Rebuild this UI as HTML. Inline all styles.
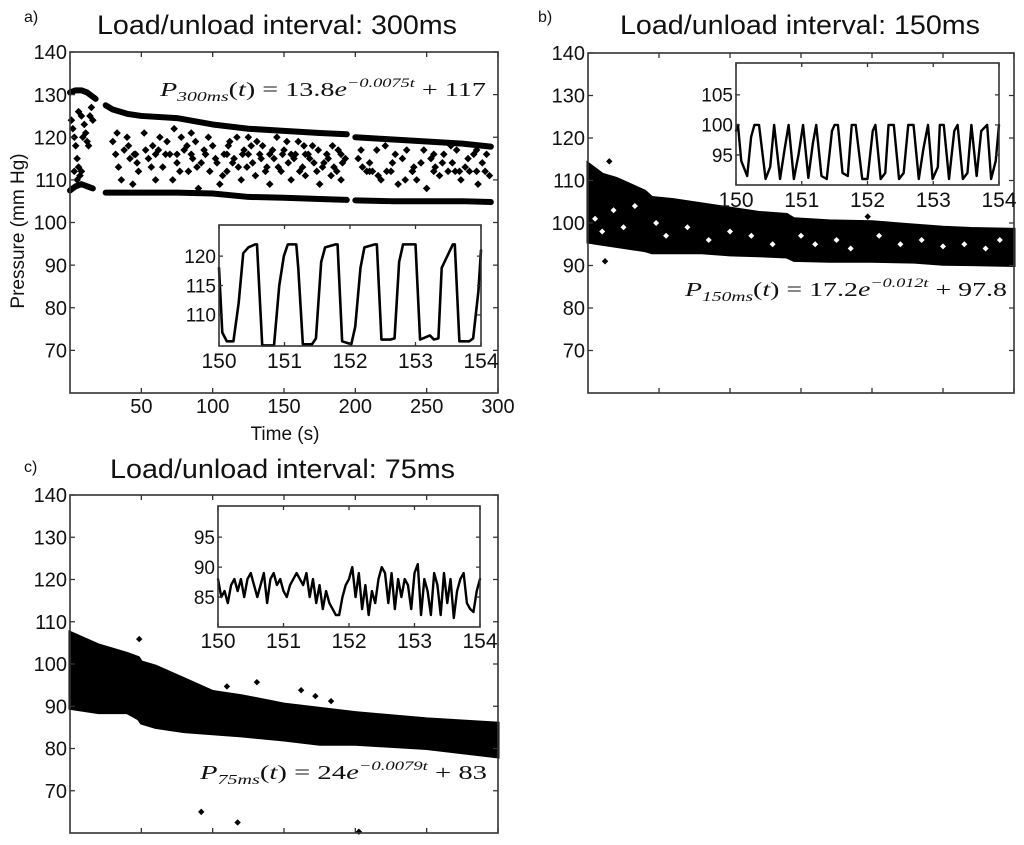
<!DOCTYPE html>
<html><head><meta charset="utf-8">
<style>
html,body{margin:0;padding:0;background:#fff;}
svg{display:block;}
text{font-family:"Liberation Sans",sans-serif;fill:#111;}
.eq{font-family:"Liberation Serif",serif;}
</style></head>
<body>
<svg id="fig" width="1024" height="845" viewBox="0 0 1024 845" xmlns="http://www.w3.org/2000/svg"></svg>
<script>
// ---------- DATA ----------
const mainYTicks = [70, 80, 90, 100, 110, 120, 130, 140];
const mainXTicks = [50, 100, 150, 200, 250, 300];
const insetXTicks = [150, 151, 152, 153, 154];
const insetAYTicks = [110, 115, 120];
const insetBYTicks = [95, 100, 105];
const insetCYTicks = [85, 90, 95];

// Panel a: envelope lines (upper / lower) of the scatter band
const aUpperT1 = [0, 4, 8, 12, 16, 18];
const aUpperP1 = [130.5, 131, 131, 130.5, 129.5, 129];
const aLowerT1 = [0, 4, 8, 12, 16];
const aLowerP1 = [107.5, 108.5, 109, 108.5, 108];
const aUpperT2 = [25, 30, 40, 50, 75, 100, 125, 150, 175, 194];
const aUpperP2 = [127.5, 126.5, 125.5, 125, 124.5, 123, 122, 121.5, 121, 120.7];
const aUpperT3 = [200, 225, 250, 275, 295];
const aUpperP3 = [120, 119.5, 119, 118.5, 117.8];
const aLowerT2 = [25, 50, 75, 100, 125, 150, 175, 194];
const aLowerP2 = [107, 107, 107, 106.8, 106, 105.8, 105.5, 105.3];
const aLowerT3 = [200, 225, 250, 275, 295];
const aLowerP3 = [105.2, 105, 105, 105, 104.8];
const aMidT = [1,2,3,4,5,6,7,8,9,10,11,12,13,14,15,16,6,8,3,5,
  30,32,34,36,38,40,42,44,46,48,52,55,58,60,62,65,68,70,72,75,78,80,83,86,88,90,92,95,98,100,103,105,108,110,112,115,118,120,122,125,128,130,133,135,138,140,143,145,148,150,153,155,158,160,163,165,168,170,173,175,178,180,183,185,188,190,193,
  202,205,208,212,215,218,222,226,230,233,236,240,243,246,250,253,256,259,262,265,268,271,274,277,280,283,286,289,292,294,
  33,41,47,53,57,63,67,73,77,82,85,89,94,97,102,107,111,114,117,121,124,127,131,134,137,142,146,149,152,157,161,164,167,171,174,177,181,184,187,191,
  204,210,216,221,228,235,241,248,255,261,267,273,279,285,291,
  45,60,75,85,95,110,125,140,155,165,180,190,210,225,240,255,270,285];
const aMidP = [124,122,120,118,115,113,111,112,120,123,121,119,118,125,127,124,126,125,112,110,
  119,116,113,110,117,120,115,109,116,112,121,115,118,110,117,113,119,116,110,114,120,117,112,115,119,108,114,116,112,118,114,109,116,112,119,115,113,110,117,120,114,111,116,118,113,109,115,120,112,117,114,110,116,119,113,111,115,118,112,109,114,116,111,113,117,110,115,
  115,113,112,112,117,110,112,114,109,115,117,112,110,114,108,115,113,111,116,112,114,117,110,113,112,116,109,114,116,111,
  121,118,114,117,113,120,116,122,112,118,121,113,117,120,115,111,118,114,120,116,113,118,119,115,112,117,113,116,119,115,112,118,116,114,117,113,115,118,112,114,
  117,114,111,118,116,110,113,117,116,114,118,112,115,117,112,
  116,116,116,116,116,116,116,116,116,116,116,116,112,112,112,112,112,112];

// Panel b: dense band
const bBandT = [0, 10, 20, 30, 40, 45, 60, 80, 100, 120, 140, 145, 170, 200, 230, 250, 270, 300];
const bUpper = [114, 111.5, 110.5, 109, 107.5, 106, 105.5, 104.5, 103.5, 102.5, 102, 101, 100.5, 100.3, 99.5, 99, 98.7, 98.5];
const bLower = [95.5, 95, 94.5, 94, 93.5, 93, 93, 93, 92.5, 92.3, 92, 91.2, 91, 91, 90.8, 90.3, 90.2, 90];
const bOutT = [12, 15, 197];
const bOutP = [91, 114.5, 101.5];
const bHoleT = [5, 10, 18, 25, 33, 48, 55, 70, 85, 100, 115, 130, 150, 160, 175, 185, 205, 220, 235, 250, 265, 280, 290];
const bHoleP = [101, 98, 103, 99, 104, 100, 97, 99, 96, 98, 97, 95, 97, 95, 96, 94, 97, 95, 96, 94.5, 95, 94, 96];

// Panel c: dense band
const cBandT = [0, 20, 40, 48, 50, 60, 80, 100, 120, 150, 175, 200, 250, 300];
const cUpper = [107.5, 104.5, 102.5, 101.5, 100.5, 99.5, 96.5, 93.5, 92.5, 90.5, 89.5, 88.5, 87, 86];
const cLower = [89.5, 88.5, 88.5, 87, 86, 85, 84, 83.5, 83, 82, 81, 81, 80, 78];
const cOutT = [48.5, 110, 131, 162, 172, 183, 92, 117.5, 202.5];
const cOutP = [105.9, 94.7, 95.7, 93.8, 92.4, 91.2, 65, 62.5, 60.3];

// Inset a: 300 ms square wave
const insAT = [150.00,150.05,150.12,150.22,150.30,150.37,150.45,150.55,150.58,150.66,150.84,150.92,150.99,151.05,151.18,151.21,151.28,151.42,151.48,151.56,151.62,151.78,151.81,151.88,152.02,152.08,152.16,152.22,152.38,152.41,152.48,152.62,152.68,152.75,152.81,152.97,153.00,153.07,153.22,153.28,153.35,153.40,153.57,153.60,153.67,153.82,153.88,153.96,154.00];
const insAP = [118,107,105.5,105.5,112,120.5,121.5,122,122,104.8,104.8,115,120,122,122,118,105,105,106,119,121.5,122,122,105.5,105,108,118,121.5,122,122,105.8,105.8,106,119,122,122,122,105.8,106.5,105.8,106,118,122,122,105.5,105.5,106,114,121];

// Inset b: 150 ms wave
const insBT = [150.00,150.03,150.08,150.17,150.23,150.28,150.35,150.45,150.52,150.58,150.67,150.74,150.80,150.88,150.95,151.02,151.10,151.17,151.22,151.30,151.38,151.46,151.50,151.55,151.62,151.70,151.76,151.82,151.92,152.00,152.08,152.12,152.20,152.27,152.32,152.40,152.48,152.55,152.62,152.70,152.78,152.85,152.92,152.99,153.07,153.10,153.16,153.24,153.32,153.37,153.45,153.52,153.58,153.66,153.73,153.82,153.88,153.95,154.00];
const insBP = [99,100,94,91.5,98,100,100,91,93,100,91,96,100,91,95,100,91.2,97,100,91.5,91,99,100,100,92,91.5,100,100,91,91,99,100,91,92,100,100,91,92,100,100,91,96,100,91,93,100,100,91,99,100,91,92,100,91.5,99,100,91,94,100];

// Inset c: 75 ms noisy trace (sampled every 0.05 s from 150 to 154)
const insCP = [88,85,86,84,87,88,86,88,85,88,89,87,85,87,89,84,88,89,87,88,86,85,87,88,89,88,87,89,85,88,84,87,83,86,84,83,82,82,85,87,88,90,85,89,83,87,82,86,84,88,90,89,84,89,83,88,85,88,87,83,89,90.5,82,88,86,82,89,87,82,89,84,88,81.5,86,88,89,84,83,82.5,86,88];

// ---------- DRAWING ----------
const NS = "http://www.w3.org/2000/svg";
const svg = document.getElementById('fig');
function mk(tag, parent) { const e = document.createElementNS(NS, tag); (parent || svg).appendChild(e); return e; }
function lin(d0, d1, r0, r1) { return v => r0 + (v - d0) * (r1 - r0) / (d1 - d0); }

function axesBox(g, x0, x1, y0, y1, sx, sy, xt, yt, tickLen, xLabelSize, yLabelSize, xLabelOff, showX, nm) {
  const r = mk('rect', g);
  
  
  r.setAttribute('x', x0); r.setAttribute('y', y0);
  r.setAttribute('width', x1 - x0); r.setAttribute('height', y1 - y0);
  r.setAttribute('fill', 'none'); r.setAttribute('stroke', '#333'); r.setAttribute('stroke-width', '1.6');
  yt.forEach(v => {
    const y = sy(v);
    const t1 = mk('path', g);
    
    
    t1.setAttribute('d', `M${x0},${y}h${tickLen}M${x1},${y}h${-tickLen}`);
    t1.setAttribute('stroke', '#333'); t1.setAttribute('stroke-width', '1.3');
    const tx = mk('text', g);
    
    
    tx.setAttribute('x', x0 - 3); tx.setAttribute('y', y + yLabelSize * 0.36);
    tx.setAttribute('text-anchor', 'end'); tx.setAttribute('font-size', yLabelSize);
    tx.textContent = v;
  });
  xt.forEach(v => {
    const x = sx(v);
    const t1 = mk('path', g);
    
    
    t1.setAttribute('d', `M${x},${y1}v${-tickLen}M${x},${y0}v${tickLen}`);
    t1.setAttribute('stroke', '#333'); t1.setAttribute('stroke-width', '1.3');
    if (showX) {
      const tx = mk('text', g);
      
      
      tx.setAttribute('x', x); tx.setAttribute('y', y1 + xLabelOff);
      tx.setAttribute('text-anchor', 'middle'); tx.setAttribute('font-size', xLabelSize);
      tx.textContent = v;
    }
  });
}
function polyline(g, ts, ps, sx, sy, w, nm) {
  const p = mk('polyline', g);
  
  
  p.setAttribute('points', ts.map((t, i) => sx(t) + ',' + sy(ps[i])).join(' '));
  p.setAttribute('fill', 'none'); p.setAttribute('stroke', '#000');
  p.setAttribute('stroke-width', w); p.setAttribute('stroke-linejoin', 'round'); p.setAttribute('stroke-linecap', 'round');
}
function band(g, ts, up, lo, sx, sy, nm) {
  const pts = ts.map((t, i) => sx(t) + ',' + sy(up[i])).concat(ts.slice().reverse().map((t, i) => sx(t) + ',' + sy(lo[lo.length - 1 - i])));
  const p = mk('polygon', g);
  
  
  p.setAttribute('points', pts.join(' '));
  p.setAttribute('fill', '#000'); p.setAttribute('stroke', '#000'); p.setAttribute('stroke-width', '3');
}
function dots(g, ts, ps, sx, sy, r, nm, color) {
  ts.forEach((t, i) => {
    const x = sx(t), y = sy(ps[i]);
    const d = mk('path', g);
    
    
    d.setAttribute('d', `M${x},${y - r}L${x + r},${y}L${x},${y + r}L${x - r},${y}Z`);
    d.setAttribute('fill', color || '#000');
  });
}
function text(g, x, y, s, size, anchor, nm, len) {
  const t = mk('text', g);
  
  
  t.setAttribute('x', x); t.setAttribute('y', y); t.setAttribute('font-size', size);
  if (anchor) t.setAttribute('text-anchor', anchor);
  if (len) { t.setAttribute('textLength', len); t.setAttribute('lengthAdjust', 'spacingAndGlyphs'); }
  t.textContent = s;
  return t;
}
function equation(g, x, y, len, sub, coef, expo, cst, nm) {
  const t = mk('text', g);
  
  
  t.setAttribute('class', 'eq');
  t.setAttribute('x', x); t.setAttribute('y', y); t.setAttribute('font-size', 20);
  t.setAttribute('textLength', len); t.setAttribute('lengthAdjust', 'spacingAndGlyphs');
  const parts = [
    ['P', 'italic', 20, 0], [sub, 'italic', 14, 5], ['(', 'normal', 20, -5], ['t', 'italic', 20, 0],
    [') = ' + coef, 'normal', 20, 0], ['e', 'italic', 20, 0], [expo, 'italic', 13, -9], [' + ' + cst, 'normal', 20, 9]
  ];
  parts.forEach(p => {
    const s = mk('tspan', t);
    s.setAttribute('font-style', p[1]); s.setAttribute('font-size', p[2]);
    if (p[3]) s.setAttribute('dy', p[3]);
    s.textContent = p[0];
  });
}

// ---- Panel a ----
const gA = mk('g');  
text(gA, 24, 22, 'a)', 16, null, 'panel-a-letter');
text(gA, 97, 34, 'Load/unload interval: 300ms', 27, null, 'panel-a-title', 360);
const axA = lin(0, 300, 70, 498), ayA = lin(60, 140, 393, 52);
polyline(gA, aUpperT1, aUpperP1, axA, ayA, 6, 'a-upper-envelope');
polyline(gA, aLowerT1, aLowerP1, axA, ayA, 6, 'a-lower-envelope');
polyline(gA, aUpperT2, aUpperP2, axA, ayA, 6, 'a-upper-envelope');
polyline(gA, aUpperT3, aUpperP3, axA, ayA, 6, 'a-upper-envelope');
polyline(gA, aLowerT2, aLowerP2, axA, ayA, 6, 'a-lower-envelope');
polyline(gA, aLowerT3, aLowerP3, axA, ayA, 6, 'a-lower-envelope');
dots(gA, aMidT, aMidP, axA, ayA, 3.8, 'a-scatter-point');
axesBox(gA, 70, 498, 52, 393, axA, ayA, mainXTicks, mainYTicks, 5, 20, 20, 20, true, 'a-main');
text(gA, 285, 440, 'Time (s)', 19, 'middle', 'x-axis-title');
const yl = text(gA, 0, 0, 'Pressure (mm Hg)', 19, 'middle', 'y-axis-title');
yl.setAttribute('transform', 'translate(24,231) rotate(-90)');
equation(gA, 160, 96, 326, '300ms', '13.8', '−0.0075t', '117', 'a-fit-equation');
const iA = mk('rect', gA);  
iA.setAttribute('x', 219); iA.setAttribute('y', 225); iA.setAttribute('width', 262); iA.setAttribute('height', 121); iA.setAttribute('fill', '#fff');
const ixA = lin(150, 154, 219, 481), iyA = lin(104.7, 125.3, 346, 225);
polyline(gA, insAT, insAP, ixA, iyA, 2.6, 'a-inset-trace');
axesBox(gA, 219, 481, 225, 346, ixA, iyA, insetXTicks, insetAYTicks, 4, 21, 19, 22, true, 'a-inset');

// ---- Panel b ----
const gB = mk('g');  
text(gB, 538, 22, 'b)', 16, null, 'panel-b-letter');
text(gB, 620, 34, 'Load/unload interval: 150ms', 27, null, 'panel-b-title', 360);
const axB = lin(0, 300, 588, 1014), ayB = lin(60, 140, 393, 53);
band(gB, bBandT, bUpper, bLower, axB, ayB, 'b-scatter-band');
dots(gB, bHoleT, bHoleP, axB, ayB, 3, 'b-band-gap', '#fff');
dots(gB, bOutT, bOutP, axB, ayB, 3.2, 'b-outlier-point');
axesBox(gB, 588, 1014, 53, 393, axB, ayB, mainXTicks, mainYTicks, 5, 20, 20, 20, false, 'b-main');
equation(gB, 685, 296, 322, '150ms', '17.2', '−0.012t', '97.8', 'b-fit-equation');
const iB = mk('rect', gB);  
iB.setAttribute('x', 736); iB.setAttribute('y', 63); iB.setAttribute('width', 263); iB.setAttribute('height', 122); iB.setAttribute('fill', '#fff');
const ixB = lin(150, 154, 736, 999), iyB = lin(90, 110.3, 185, 63);
polyline(gB, insBT, insBP, ixB, iyB, 2.4, 'b-inset-trace');
axesBox(gB, 736, 999, 63, 185, ixB, iyB, insetXTicks, insetBYTicks, 4, 21, 19, 22, true, 'b-inset');

// ---- Panel c ----
const gC = mk('g');  
text(gC, 24, 472, 'c)', 16, null, 'panel-c-letter');
text(gC, 110, 478, 'Load/unload interval: 75ms', 27, null, 'panel-c-title', 345);
const axC = lin(0, 300, 70, 498), ayC = lin(60, 140, 833, 495);
band(gC, cBandT, cUpper, cLower, axC, ayC, 'c-scatter-band');
dots(gC, cOutT, cOutP, axC, ayC, 3.2, 'c-outlier-point');
axesBox(gC, 70, 498, 495, 833, axC, ayC, mainXTicks, mainYTicks, 5, 20, 20, 20, false, 'c-main');
equation(gC, 200, 779, 287, '75ms', '24', '−0.0079t', '83', 'c-fit-equation');
const iC = mk('rect', gC);  
iC.setAttribute('x', 218); iC.setAttribute('y', 506); iC.setAttribute('width', 262); iC.setAttribute('height', 121); iC.setAttribute('fill', '#fff');
const ixC = lin(150, 154, 218, 480), iyC = lin(80, 100.2, 627, 506);
const insCT = insCP.map((_, i) => 150 + i * 4 / (insCP.length - 1));
polyline(gC, insCT, insCP, ixC, iyC, 2.4, 'c-inset-trace');
axesBox(gC, 218, 480, 506, 627, ixC, iyC, insetXTicks, insetCYTicks, 4, 21, 19, 21, true, 'c-inset');
</script>
</body></html>
